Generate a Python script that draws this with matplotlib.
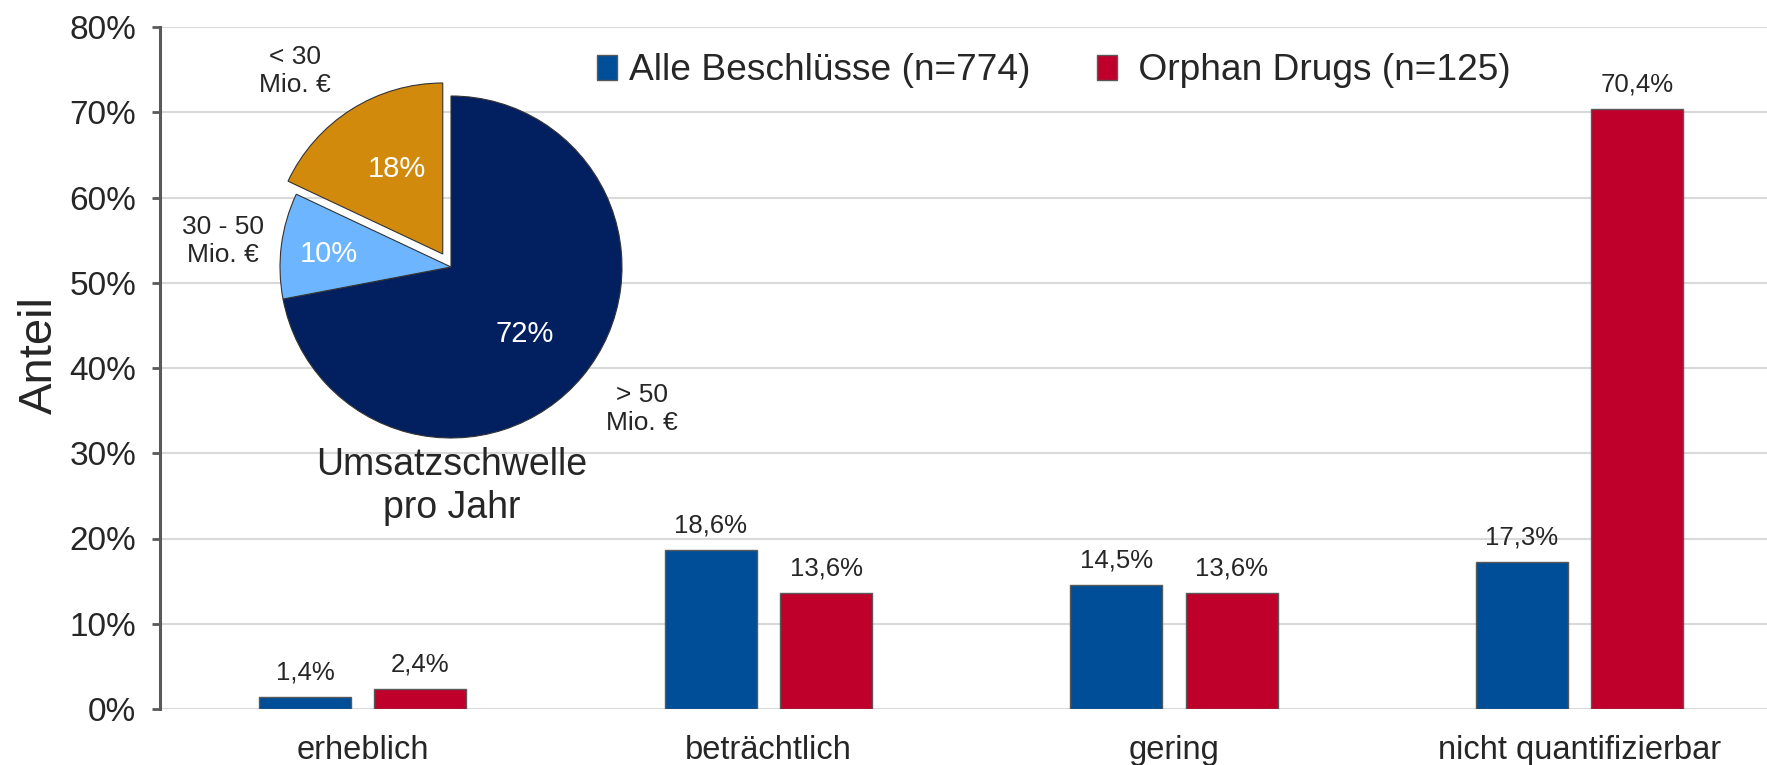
import numpy as np
import matplotlib
matplotlib.use("Agg")
import matplotlib.pyplot as plt
from matplotlib.ticker import FuncFormatter

plt.rcParams['font.family'] = ['Liberation Sans', 'DejaVu Sans']

# ---- data ----
categories = ['erheblich', 'beträchtlich', 'gering', 'nicht quantifizierbar']
alle_beschluesse = [1.4, 18.6, 14.5, 17.3]
orphan_drugs = [2.4, 13.6, 13.6, 70.4]
series_names = ['Alle Beschlüsse (n=774)', ' Orphan Drugs (n=125)']
y_ticks = [0, 10, 20, 30, 40, 50, 60, 70, 80]

pie_values = [72, 10, 18]
pie_labels = ['> 50\nMio. €', '30 - 50\nMio. €', '< 30\nMio. €']
pie_title = 'Umsatzschwelle\npro Jahr'

# ---- style ----
C_BLUE = '#004E98'
C_RED = '#BE002B'
PIE_COLORS = ['#022060', '#6DB6FF', '#D28A0D']
TXT = '#262626'
AX_GRAY = '#595959'
GRID = '#D9D9D9'

W, H = 1767, 765
fig = plt.figure(figsize=(W / 100, H / 100), dpi=100)
ax = fig.add_axes([160 / W, 1 - 709 / H, (W - 160) / W, (709 - 27) / H])

x = np.arange(len(categories))
bw = 0.227
off = 0.142
b1 = ax.bar(x - off, alle_beschluesse, bw, color=C_BLUE, edgecolor=AX_GRAY,
            linewidth=1.0, label=series_names[0], zorder=3)
b2 = ax.bar(x + off, orphan_drugs, bw, color=C_RED, edgecolor=AX_GRAY,
            linewidth=1.0, label=series_names[1], zorder=3)

fmt = lambda v: f"{v:.1f}%".replace('.', ',')
ax.bar_label(b1, labels=[fmt(v) for v in alle_beschluesse], padding=9,
             fontsize=18.5, color=TXT)
ax.bar_label(b2, labels=[fmt(v) for v in orphan_drugs], padding=9,
             fontsize=18.5, color=TXT)

ax.set_xlim(-0.5, 3.462)
ax.set_ylim(0, 80)
ax.set_yticks(y_ticks)
ax.yaxis.set_major_formatter(FuncFormatter(lambda v, p: f"{v:.0f}%"))
ax.set_xticks(x)
ax.set_xticklabels(categories)
ax.tick_params(axis='x', length=0, pad=19, labelsize=23.5, labelcolor=TXT)
ax.tick_params(axis='y', length=6, width=2, color=AX_GRAY, pad=11,
               labelsize=24, labelcolor=TXT, direction='out')
ax.grid(axis='y', color=GRID, linewidth=1.5, zorder=0)
ax.set_axisbelow(True)
for s in ['top', 'right', 'bottom']:
    ax.spines[s].set_visible(False)
ax.spines['left'].set_color(AX_GRAY)
ax.spines['left'].set_linewidth(2.2)

fig.text(40 / W, 1 - 355 / H, 'Anteil', rotation=90, ha='center',
         va='center', fontsize=34, color=TXT)

leg = fig.legend(handles=[b1, b2], loc='center left',
                 bbox_to_anchor=(597 / W, 1 - 71 / H), ncol=2,
                 frameon=False, fontsize=26.7, borderpad=0, borderaxespad=0,
                 handlelength=0.55, handleheight=0.64, handletextpad=0.3,
                 columnspacing=1.8, labelcolor=TXT)

# ---- pie inset ----
cx, cy, rx, ry = 451.0, 267.0, 171.0, 171.0
lim = 1.2
pax = fig.add_axes([(cx - lim * rx) / W, 1 - (cy + lim * ry) / H,
                    2 * lim * rx / W, 2 * lim * ry / H])
wedges, ltexts, ptexts = pax.pie(
    pie_values, labels=pie_labels, colors=PIE_COLORS, startangle=90,
    counterclock=False, explode=[0, 0, 0.09], autopct='%1.0f%%',
    pctdistance=0.6, labeldistance=1.2,
    wedgeprops=dict(edgecolor='#333333', linewidth=0.8),
    textprops=dict(fontsize=19, color=TXT))
pax.set_aspect('auto')
pax.set_xlim(-lim, lim)
pax.set_ylim(-lim, lim)
pax.set_facecolor('none')
pax.axis('off')

to_data = lambda px, py: ((px - cx) / rx, (cy - py) / ry)
label_px = [(642, 409), (223, 241), (295, 71)]
pct_px = [(525, 334), (329, 254), (397, 169)]
for t, p in zip(ltexts, label_px):
    t.set_position(to_data(*p))
    t.set_ha('center'); t.set_va('center'); t.set_multialignment('center')
for t, p in zip(ptexts, pct_px):
    t.set_position(to_data(*p))
    t.set_color('white'); t.set_fontsize(21)
    t.set_ha('center'); t.set_va('center')

tx, ty = to_data(452, 487)
pax.text(tx, ty, pie_title, ha='center', va='center', fontsize=27,
         color=TXT, linespacing=1.25, multialignment='center')

fig.savefig('out.png', dpi=100)
